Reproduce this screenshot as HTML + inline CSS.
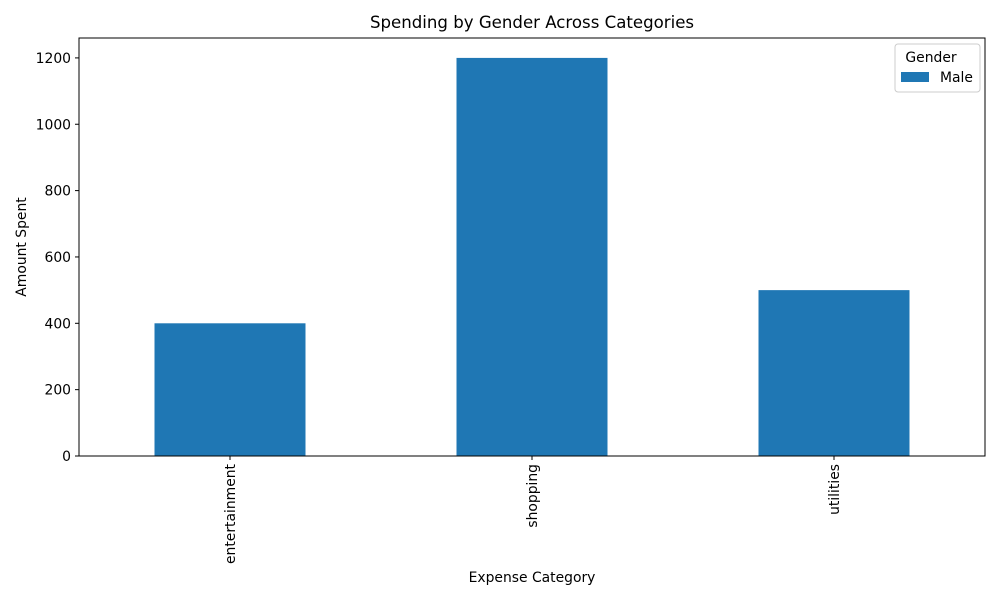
<!DOCTYPE html>
<html><head><meta charset="utf-8"><style>
body{margin:0;background:#fff;font-family:"DejaVu Sans","Liberation Sans",sans-serif;}
</style></head><body>
<svg id="chart" width="1000" height="600" xmlns="http://www.w3.org/2000/svg" font-family="'DejaVu Sans','Liberation Sans',sans-serif">
<text x="532" y="28" text-anchor="middle" font-size="16.6">Spending by Gender Across Categories</text>
<g id="plot"></g>
<text x="532" y="582" text-anchor="middle" font-size="13.9">Expense Category</text>
<text transform="translate(26,247) rotate(-90)" text-anchor="middle" font-size="13.9">Amount Spent</text>
<g>
<rect x="895" y="44" width="85" height="48" rx="3" fill="#fff" stroke="#ccc"/>
<text x="931" y="62" text-anchor="middle" font-size="13.9">Gender</text>
<rect x="901" y="72" width="28" height="10" fill="#1f77b4"/>
<text x="940" y="82" font-size="13.9">Male</text>
</g>
</svg>
<script>
const categories = ["entertainment","shopping","utilities"];
const maleValues = [400,1200,500];
const yTicks = [0,200,400,600,800,1000,1200];
const L=79,R=985,T=38,B=456,yMax=1260;
const ns="http://www.w3.org/2000/svg";
const g=document.getElementById('plot');
const y=v=>B-(v/yMax)*(B-T);
const step=(R-L)/categories.length;
const xc=i=>L+step*(i+0.5);
function mk(t,a){const e=document.createElementNS(ns,t);for(const k in a)e.setAttribute(k,a[k]);g.appendChild(e);return e;}
categories.forEach((c,i)=>{
  const bw=step*0.5;
  const r=mk('rect',{x:xc(i)-bw/2,y:y(maleValues[i]),width:bw,height:B-y(maleValues[i]),fill:'#1f77b4'});
  
  
  mk('line',{x1:xc(i),x2:xc(i),y1:B,y2:B+4,stroke:'#000'});
  const t=mk('text',{transform:`translate(${xc(i)+5},${B+8}) rotate(-90)`,'text-anchor':'end','font-size':13.9});
  t.textContent=c;
  
  
});
yTicks.forEach(v=>{
  mk('line',{x1:L-4,x2:L,y1:y(v),y2:y(v),stroke:'#000'});
  const t=mk('text',{x:L-8,y:y(v)+5,'text-anchor':'end','font-size':13.9});
  t.textContent=v;
  
  
});
const f=mk('rect',{x:L,y:T,width:R-L,height:B-T,fill:'none',stroke:'#000'});


</script>
</body></html>
